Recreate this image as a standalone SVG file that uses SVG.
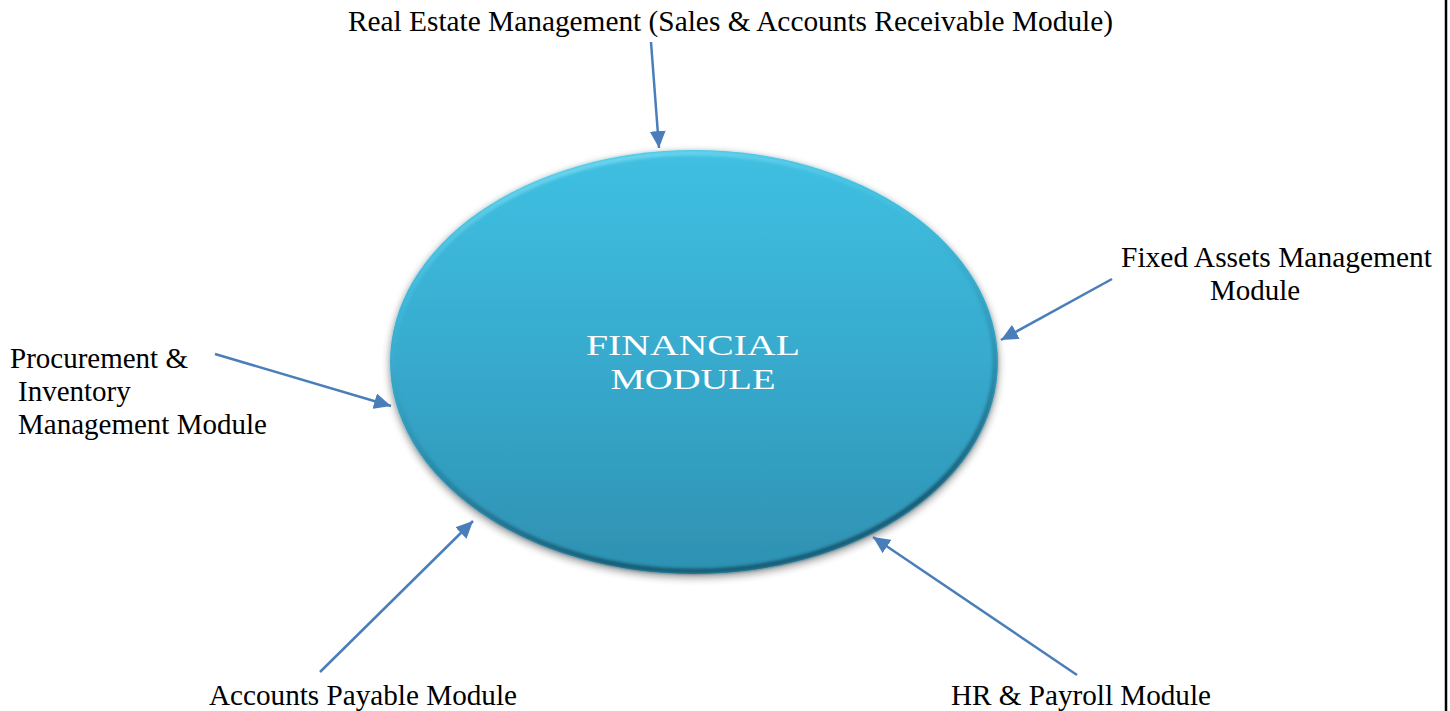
<svg xmlns="http://www.w3.org/2000/svg" width="1450" height="711" viewBox="0 0 1450 711">
  <style>
    .label { font-family: "Liberation Serif", "Times New Roman", serif; font-size: 29px; fill: #000; }
    .title { font-family: "Liberation Serif", "Times New Roman", serif; font-size: 30px; fill: #ffffff; }
    .conn { stroke: #4A7EBB; stroke-width: 2.5; fill: none; marker-end: url(#arrow); }
  </style>
  <defs>
    <marker id="arrow" markerUnits="userSpaceOnUse" markerWidth="18" markerHeight="16" refX="17" refY="8" orient="auto">
      <path d="M0,0 L17,8 L0,16 Z" fill="#4A7EBB"/>
    </marker>
    <linearGradient id="bodyFill" x1="0" y1="0" x2="0" y2="1">
      <stop offset="0" stop-color="#3FC0E2"/>
      <stop offset="0.5" stop-color="#37AACD"/>
      <stop offset="1" stop-color="#2E91B2"/>
    </linearGradient>
    <linearGradient id="rim" x1="0" y1="0" x2="0.3" y2="1">
      <stop offset="0" stop-color="#8FE6F8"/>
      <stop offset="0.35" stop-color="#4CC6E4" stop-opacity="0.3"/>
      <stop offset="0.7" stop-color="#1E6F8A" stop-opacity="0.4"/>
      <stop offset="1" stop-color="#155A72"/>
    </linearGradient>
    <filter id="shadow" x="-10%" y="-10%" width="120%" height="125%">
      <feGaussianBlur in="SourceAlpha" stdDeviation="4"/>
      <feOffset dx="0" dy="3" result="b"/>
      <feComponentTransfer><feFuncA type="linear" slope="0.45"/></feComponentTransfer>
      <feMerge><feMergeNode/><feMergeNode in="SourceGraphic"/></feMerge>
    </filter>
    <filter id="soft"><feGaussianBlur stdDeviation="1.5"/></filter>
  </defs>

  <rect x="0" y="0" width="1450" height="711" fill="#ffffff"/>
  <line x1="1446" y1="0" x2="1446" y2="711" stroke="#000" stroke-width="2.5"/>

  <g id="financial-module">
    <ellipse cx="694" cy="362" rx="304" ry="212" fill="url(#bodyFill)" filter="url(#shadow)"/>
    <ellipse cx="694" cy="362" rx="301" ry="209" fill="none" stroke="url(#rim)" stroke-width="5" filter="url(#soft)"/>
    <text class="title" x="693" y="355" text-anchor="middle" textLength="214" lengthAdjust="spacingAndGlyphs">FINANCIAL</text>
    <text class="title" x="693" y="389" text-anchor="middle" textLength="165" lengthAdjust="spacingAndGlyphs">MODULE</text>
  </g>

  <g id="real-estate">
    <text class="label" x="348" y="31" textLength="765" lengthAdjust="spacingAndGlyphs">Real Estate Management (Sales &amp; Accounts Receivable Module)</text>
  </g>
  <g id="fixed-assets">
    <text class="label" x="1121" y="267" textLength="311" lengthAdjust="spacingAndGlyphs">Fixed Assets Management</text>
    <text class="label" x="1210" y="300">Module</text>
  </g>
  <g id="procurement">
    <text class="label" x="10" y="368">Procurement &amp;</text>
    <text class="label" x="18" y="401">Inventory</text>
    <text class="label" x="18" y="434">Management Module</text>
  </g>
  <g id="accounts-payable">
    <text class="label" x="209" y="705" textLength="308" lengthAdjust="spacingAndGlyphs">Accounts Payable Module</text>
  </g>
  <g id="hr-payroll">
    <text class="label" x="951" y="705" textLength="260" lengthAdjust="spacingAndGlyphs">HR &amp; Payroll Module</text>
  </g>

  <g id="connectors">
    <line class="conn" x1="651" y1="42" x2="659" y2="148"/>
    <line class="conn" x1="215" y1="354" x2="391" y2="406"/>
    <line class="conn" x1="1112" y1="279" x2="1001" y2="340"/>
    <line class="conn" x1="320" y1="672" x2="473" y2="521"/>
    <line class="conn" x1="1077" y1="675" x2="873" y2="537"/>
  </g>
</svg>
